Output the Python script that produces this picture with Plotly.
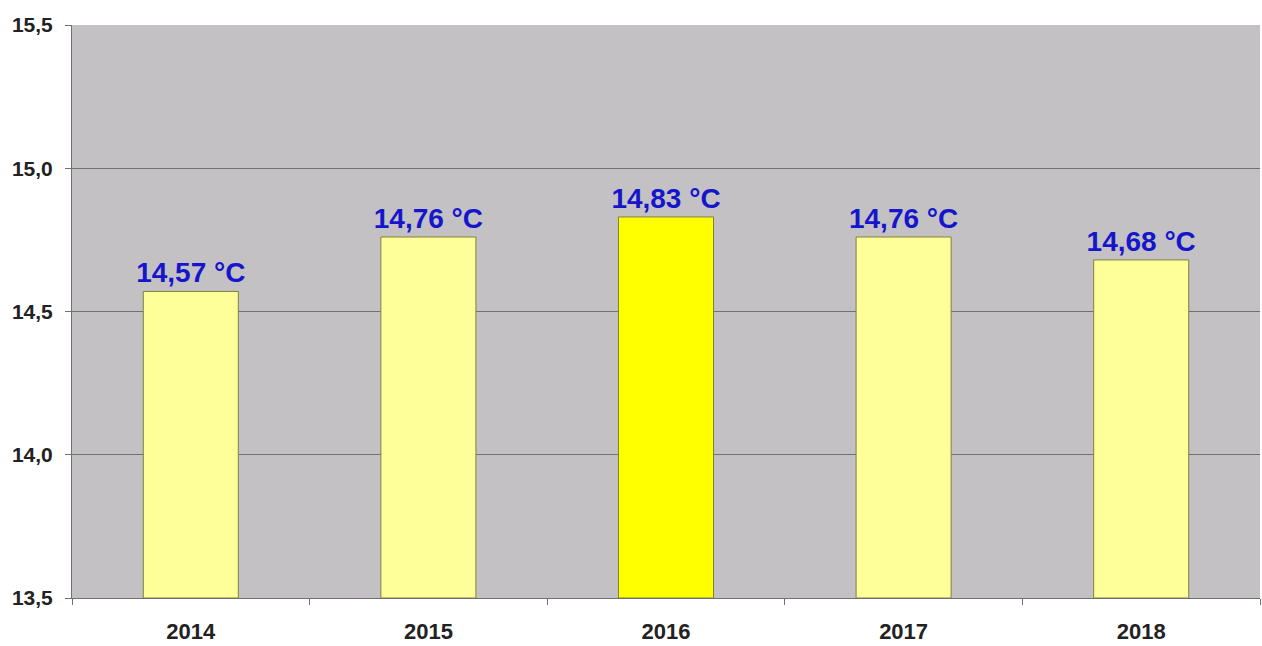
import plotly.graph_objects as go

years = ["2014", "2015", "2016", "2017", "2018"]
temps = [14.57, 14.76, 14.83, 14.76, 14.68]
labels = ["14,57 °C", "14,76 °C", "14,83 °C", "14,76 °C", "14,68 °C"]
bar_colors = ["#FFFF99", "#FFFF99", "#FFFF00", "#FFFF99", "#FFFF99"]
y_ticks = [13.5, 14.0, 14.5, 15.0, 15.5]
base_value = 13.5

fig = go.Figure(go.Bar(
    x=years, y=[t - base_value for t in temps], base=base_value,
    marker=dict(color=bar_colors, line=dict(color="#808040", width=1)),
    width=0.4,
    text=labels, textposition="outside", cliponaxis=False, constraintext="none",
    textfont=dict(family="Liberation Sans, Arial", size=28, color="#1515CC", weight="bold"),
    hoverinfo="skip",
))

fig.update_layout(
    width=1262, height=646,
    margin=dict(l=72, r=2, t=25, b=48),
    paper_bgcolor="white", plot_bgcolor="#C3C1C4",
    separators=", ",
    showlegend=False,
    font=dict(family="Liberation Sans, Arial", size=16, color="#222222"),
)
fig.update_xaxes(
    showgrid=False, showline=True, linecolor="#707070", linewidth=1,
    ticks="outside", tickson="boundaries", ticklen=6, tickcolor="#707070",
    tickfont=dict(size=22, color="#222222", family="Liberation Sans, Arial", weight="bold"),
    ticklabelstandoff=14,
)
fig.update_yaxes(
    range=[13.5, 15.5], tickvals=y_ticks, tickformat=".1f",
    showgrid=True, gridcolor="#707070", gridwidth=1,
    showline=True, linecolor="#707070", linewidth=1,
    ticks="outside", ticklen=6, tickcolor="#707070",
    tickfont=dict(size=21, color="#222222", family="Liberation Sans, Arial", weight="bold"),
    ticklabelstandoff=8,
    zeroline=False,
)
fig.write_html(
    "out.html",
    config={"displayModeBar": False},
    post_script="document.body.style.margin='0';document.body.style.overflow='hidden';",
)
